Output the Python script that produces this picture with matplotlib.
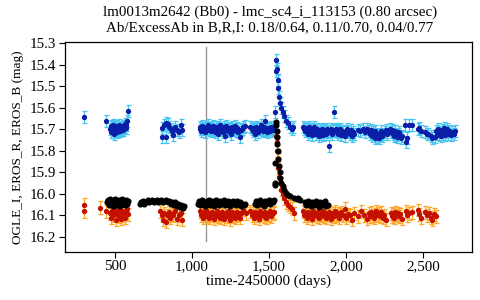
import matplotlib
matplotlib.use("Agg")
import matplotlib.pyplot as plt
from matplotlib.ticker import FuncFormatter

plt.rcParams['font.family'] = ['Liberation Serif', 'DejaVu Serif']

title_lines = ["lm0013m2642 (Bb0) - lmc_sc4_i_113153 (0.80 arcsec)",
               "Ab/ExcessAb in B,R,I: 0.18/0.64, 0.11/0.70, 0.04/0.77"]
x_label = "time-2450000 (days)"
y_label = "OGLE_I, EROS_R, EROS_B (mag)"
x_ticks = [500, 1000, 1500, 2000, 2500]
y_ticks = [15.3, 15.4, 15.5, 15.6, 15.7, 15.8, 15.9, 16.0, 16.1, 16.2]
ref_day = 1093
ref_mag_range = [15.32, 16.22]

# EROS B
eros_b_days = [298, 445,
    470, 475, 478, 482, 486, 490, 494, 497, 500, 504, 508, 512, 516, 520, 524, 528, 532, 536,
    540, 545, 550, 555, 560, 565, 570, 575, 580, 585,
    803, 808, 818, 830, 835, 842, 850, 862, 872, 880, 890, 905, 915, 930, 936,
    1050, 1056, 1062, 1068, 1074, 1080, 1086, 1092, 1098, 1104, 1110, 1116, 1122, 1128, 1134,
    1140, 1146, 1152, 1158, 1164, 1170, 1176, 1182, 1188, 1194, 1200, 1206, 1212, 1218, 1224,
    1230, 1236, 1242, 1248, 1254, 1260, 1266, 1272, 1278, 1284, 1290, 1296, 1302, 1310, 1318,
    1326, 1334,
    1344, 1380, 1388, 1394, 1400, 1406, 1412, 1418, 1424, 1430, 1436, 1442, 1448, 1454, 1460,
    1466, 1472, 1478, 1484, 1490, 1496, 1502, 1508, 1514, 1520, 1526, 1532,
    1540, 1545, 1549, 1553, 1557, 1561, 1566, 1572, 1580, 1590, 1600, 1610, 1622, 1635, 1648, 1655,
    1722, 1728, 1734, 1740, 1746, 1752, 1758, 1764, 1770, 1776, 1782, 1788, 1794, 1800, 1806,
    1812, 1818, 1824, 1830, 1836, 1842, 1848, 1854, 1860, 1866, 1872, 1878, 1884, 1890, 1896,
    1902, 1908, 1914, 1922, 1928, 1934, 1940, 1946, 1952, 1958, 1964, 1970, 1976, 1984, 1992,
    2000, 2008, 2016, 2024, 2032, 2040, 2048, 2056, 2080, 2095, 2110, 2125, 2140, 2150, 2156,
    2162, 2168, 2174, 2180, 2186, 2192, 2198, 2204, 2210, 2216, 2222, 2228, 2236, 2244, 2252,
    2260, 2270, 2288, 2294, 2300, 2306, 2312, 2318, 2324, 2332, 2340, 2348, 2356, 2362, 2385,
    2392, 2400, 2412, 2430, 2468, 2475, 2490, 2514, 2525, 2536, 2550, 2562, 2578, 2585, 2592,
    2598, 2604, 2610, 2616, 2622, 2628, 2634, 2640, 2646, 2652, 2658, 2664, 2672, 2680, 2690,
    2700, 2706]
eros_b_mag = [15.645, 15.660,
    15.700, 15.685, 15.715, 15.690, 15.705, 15.680, 15.720, 15.695, 15.710, 15.685, 15.700, 15.715, 15.690, 15.705, 15.680, 15.700, 15.690, 15.710,
    15.695, 15.700, 15.685, 15.705, 15.690, 15.675, 15.695, 15.680, 15.660, 15.615,
    15.694, 15.734, 15.680, 15.670, 15.735, 15.675, 15.690, 15.700, 15.710, 15.725, 15.690, 15.705, 15.715, 15.680, 15.705,
    15.700, 15.690, 15.710, 15.685, 15.700, 15.695, 15.715, 15.690, 15.700, 15.680, 15.705, 15.695, 15.710, 15.690, 15.700,
    15.685, 15.705, 15.715, 15.690, 15.700, 15.720, 15.695, 15.680, 15.705, 15.700, 15.715, 15.690, 15.730, 15.700, 15.685,
    15.705, 15.710, 15.695, 15.700, 15.720, 15.690, 15.705, 15.700, 15.685, 15.710, 15.695, 15.700, 15.715, 15.734, 15.705,
    15.700, 15.690,
    15.685, 15.690, 15.700, 15.710, 15.695, 15.705, 15.720, 15.690, 15.700, 15.715, 15.695, 15.700, 15.680, 15.705, 15.710,
    15.690, 15.700, 15.660, 15.705, 15.715, 15.695, 15.700, 15.710, 15.690, 15.700, 15.705, 15.690,
    15.620, 15.430, 15.380, 15.420, 15.470, 15.510, 15.550, 15.580, 15.600, 15.620, 15.640, 15.660, 15.670, 15.690, 15.700, 15.690,
    15.690, 15.700, 15.710, 15.695, 15.705, 15.720, 15.690, 15.700, 15.715, 15.700, 15.725, 15.705, 15.690, 15.710, 15.720,
    15.700, 15.715, 15.730, 15.705, 15.720, 15.700, 15.715, 15.725, 15.705, 15.710, 15.720, 15.700, 15.715, 15.780, 15.710,
    15.700, 15.720, 15.705, 15.620, 15.710, 15.700, 15.715, 15.720, 15.705, 15.710, 15.700, 15.725, 15.710, 15.715, 15.730,
    15.710, 15.700, 15.715, 15.720, 15.705, 15.730, 15.715, 15.720, 15.705, 15.710, 15.700, 15.715, 15.700, 15.710, 15.720,
    15.705, 15.730, 15.715, 15.720, 15.740, 15.710, 15.725, 15.735, 15.720, 15.740, 15.725, 15.710, 15.730, 15.720, 15.715,
    15.705, 15.720, 15.700, 15.715, 15.705, 15.720, 15.730, 15.710, 15.725, 15.735, 15.720, 15.715, 15.740, 15.730, 15.680,
    15.760, 15.740, 15.680, 15.680, 15.700, 15.695, 15.710, 15.715, 15.720, 15.720, 15.730, 15.740, 15.735, 15.710, 15.720,
    15.700, 15.725, 15.715, 15.730, 15.705, 15.720, 15.710, 15.695, 15.725, 15.715, 15.700, 15.720, 15.710, 15.725, 15.715,
    15.720, 15.710]

# EROS R
eros_r_days = [298, 300, 402, 440,
    470, 476, 482, 488, 494, 500, 506, 512, 518, 524, 530, 536, 542, 548, 554, 560, 566, 572, 578, 584,
    795, 805, 815, 822, 832, 840, 850, 858, 868, 878, 890, 902, 915, 928, 936,
    1050, 1057, 1064, 1071, 1078, 1085, 1092, 1099, 1106, 1113, 1120, 1127, 1134, 1141, 1148,
    1155, 1162, 1169, 1176, 1183, 1190, 1197, 1204, 1211, 1218, 1225, 1232, 1239, 1246, 1253,
    1260, 1267, 1274, 1281, 1288, 1295, 1302, 1310, 1320, 1331,
    1350, 1380, 1388, 1396, 1404, 1412, 1420, 1428, 1436, 1444, 1452, 1460, 1468, 1476, 1484,
    1492, 1500, 1508, 1516, 1524, 1532,
    1548, 1551, 1554, 1557, 1561, 1566, 1572, 1580, 1590, 1600, 1612, 1625, 1640, 1652, 1660,
    1722, 1730, 1738, 1746, 1754, 1762, 1770, 1778, 1786, 1794, 1802, 1810, 1818, 1826, 1834,
    1842, 1850, 1858, 1866, 1874, 1882, 1890, 1898, 1906, 1914, 1922, 1930, 1938, 1946, 1954,
    1962, 1970, 1980, 1992, 2004, 2016, 2028, 2040, 2052, 2080, 2100, 2120, 2140, 2150, 2158,
    2166, 2174, 2182, 2190, 2198, 2206, 2214, 2222, 2230, 2240, 2250, 2262, 2290, 2298, 2306,
    2314, 2322, 2330, 2338, 2346, 2354, 2362, 2388, 2398, 2410, 2430, 2468, 2476, 2490, 2514,
    2526, 2538, 2550, 2562, 2575, 2584]
eros_r_mag = [16.050, 16.080, 16.065, 16.080,
    16.090, 16.110, 16.080, 16.100, 16.070, 16.095, 16.120, 16.085, 16.100, 16.075, 16.105, 16.090, 16.115, 16.080, 16.100, 16.090, 16.110, 16.085, 16.070, 16.095,
    16.080, 16.100, 16.120, 16.090, 16.130, 16.100, 16.085, 16.110, 16.095, 16.100, 16.080, 16.115, 16.100, 16.090, 16.120,
    16.080, 16.100, 16.090, 16.110, 16.085, 16.100, 16.075, 16.105, 16.095, 16.110, 16.090, 16.100, 16.085, 16.115, 16.095,
    16.100, 16.080, 16.105, 16.090, 16.110, 16.095, 16.085, 16.100, 16.115, 16.090, 16.105, 16.080, 16.100, 16.120, 16.095,
    16.085, 16.105, 16.090, 16.110, 16.100, 16.085, 16.095, 16.110, 16.090, 16.073,
    16.090, 16.080, 16.100, 16.090, 16.110, 16.085, 16.100, 16.095, 16.115, 16.080, 16.100, 16.090, 16.105, 16.085, 16.110,
    16.095, 16.100, 16.080, 16.105, 16.090, 16.085,
    15.730, 15.760, 15.800, 15.840, 15.880, 15.920, 15.950, 15.980, 16.000, 16.020, 16.040, 16.050, 16.060, 16.070, 16.090,
    16.080, 16.100, 16.090, 16.110, 16.085, 16.100, 16.095, 16.115, 16.080, 16.100, 16.090, 16.105, 16.085, 16.110, 16.095,
    16.100, 16.080, 16.105, 16.090, 16.110, 16.095, 16.085, 16.100, 16.115, 16.090, 16.105, 16.080, 16.100, 16.090, 16.110,
    16.095, 16.085, 16.100, 16.070, 16.110, 16.095, 16.100, 16.120, 16.090, 16.105, 16.080, 16.100, 16.115, 16.090, 16.105,
    16.085, 16.100, 16.110, 16.095, 16.080, 16.100, 16.090, 16.105, 16.085, 16.110, 16.100, 16.120, 16.090, 16.105, 16.095,
    16.110, 16.085, 16.100, 16.090, 16.105, 16.095, 16.115, 16.080, 16.100, 16.090, 16.085, 16.075, 16.095, 16.110, 16.085,
    16.100, 16.090, 16.110, 16.120, 16.095, 16.105]

# OGLE I
ogle_i_days = [450, 456, 462, 468, 474, 480, 486, 492, 498, 504, 510, 516, 522, 528, 534, 540,
    546, 552, 558, 564, 570, 576, 582, 588,
    662, 672, 682, 692, 702, 712, 722, 732, 742, 752, 762, 772, 782, 792, 802, 812, 822, 832,
    842, 852, 862, 872, 882, 892, 902, 912, 922, 932, 942, 952,
    1040, 1048, 1056, 1064, 1072, 1080, 1088, 1096, 1104, 1112, 1120, 1128, 1136, 1144, 1152,
    1160, 1168, 1176, 1184, 1192, 1200, 1208, 1216, 1224, 1232, 1240, 1248, 1256, 1264, 1272,
    1280, 1288, 1296, 1304, 1312, 1320, 1328, 1336, 1344,
    1410, 1418, 1426, 1434, 1442, 1450, 1458, 1466, 1474, 1482, 1490, 1498, 1506, 1514, 1522,
    1530, 1536, 1540, 1541, 1543,
    1547, 1549, 1551, 1553, 1556, 1559, 1562, 1566, 1570, 1575, 1582, 1590, 1600, 1612, 1625,
    1640, 1660, 1680, 1692, 1700,
    1733, 1743, 1753, 1763, 1773, 1783, 1793, 1803, 1813, 1823, 1833, 1843, 1853, 1863, 1873, 1883]
ogle_i_mag = [16.040, 16.030, 16.050, 16.025, 16.045, 16.035, 16.055, 16.030, 16.040, 16.025, 16.050, 16.035, 16.045, 16.030, 16.055, 16.040,
    16.025, 16.045, 16.035, 16.050, 16.030, 16.040, 16.045, 16.035,
    16.045, 16.040, 16.035, 16.045, 16.040, 16.030, 16.040, 16.035, 16.030, 16.040, 16.035, 16.030, 16.040, 16.035, 16.030, 16.040, 16.035, 16.030,
    16.040, 16.035, 16.045, 16.040, 16.050, 16.040, 16.055, 16.045, 16.060, 16.050, 16.065, 16.055,
    16.045, 16.035, 16.050, 16.030, 16.045, 16.040, 16.055, 16.035, 16.045, 16.030, 16.050, 16.040, 16.035, 16.055, 16.045,
    16.030, 16.040, 16.050, 16.035, 16.045, 16.040, 16.030, 16.050, 16.045, 16.035, 16.040, 16.055, 16.040, 16.035, 16.045,
    16.040, 16.050, 16.035, 16.045, 16.040, 16.055, 16.045, 16.050, 16.045,
    16.045, 16.035, 16.050, 16.040, 16.030, 16.045, 16.040, 16.055, 16.035, 16.045, 16.040, 16.030, 16.045, 16.040, 16.035,
    16.040, 16.030, 15.950, 15.960, 15.855,
    15.665, 15.680, 15.710, 15.735, 15.770, 15.800, 15.840, 15.870, 15.900, 15.925, 15.950, 15.965, 15.980, 15.995, 16.005,
    16.010, 16.020, 16.025, 16.020, 16.030,
    16.040, 16.050, 16.035, 16.045, 16.055, 16.040, 16.050, 16.035, 16.045, 16.060, 16.040, 16.050, 16.045, 16.035, 16.055, 16.050]

eros_b_err = 0.028
eros_r_err = 0.030
ogle_i_err = 0.006

fig = plt.figure(figsize=(4.8, 3.0), dpi=100)
ax = fig.add_axes([0.135, 0.16, 0.848, 0.70])

ax.plot([ref_day, ref_day], ref_mag_range, color='#999999', lw=1.0, zorder=1)

ax.errorbar(eros_b_days, eros_b_mag, yerr=eros_b_err, fmt='o', ms=2.8,
            color='#0a1ea8', mec='#0a1ea8', ecolor='#45c4f0', elinewidth=0.9,
            capsize=1.8, capthick=0.9, zorder=3)
ax.errorbar(eros_r_days, eros_r_mag, yerr=eros_r_err, fmt='o', ms=2.8,
            color='#c41000', mec='#c41000', ecolor='#ffa626', elinewidth=0.9,
            capsize=1.8, capthick=0.9, zorder=3)
ax.errorbar(ogle_i_days, ogle_i_mag, yerr=ogle_i_err, fmt='o', ms=3.4,
            color='black', mec='black', ecolor='black', elinewidth=0.8,
            capsize=0, zorder=4)

ax.set_xlim(175, 2818)
ax.set_ylim(16.27, 15.295)
ax.set_xticks(x_ticks)
ax.set_yticks(y_ticks)
ax.xaxis.set_major_formatter(FuncFormatter(lambda v, p: f"{int(v):,}"))
ax.yaxis.set_major_formatter(FuncFormatter(lambda v, p: f"{v:.1f}"))
ax.tick_params(axis='both', direction='out', length=4, width=0.8, labelsize=10.8,
               top=False, right=False, pad=2)
for s in ax.spines.values():
    s.set_linewidth(0.9)

ax.set_xlabel(x_label, fontsize=10.8, labelpad=1)
ax.set_ylabel(y_label, fontsize=9.5, labelpad=4)
fig.text(0.562, 0.958, title_lines[0], ha='center', va='center', fontsize=10.8)
fig.text(0.562, 0.908, title_lines[1], ha='center', va='center', fontsize=10.8)

fig.savefig("out.png", dpi=100)
